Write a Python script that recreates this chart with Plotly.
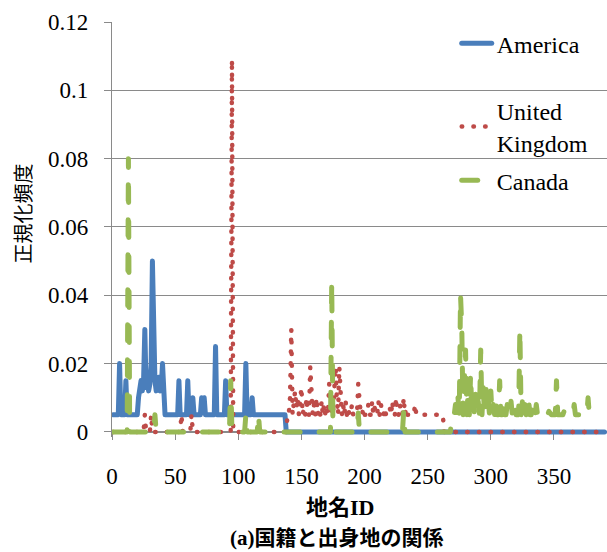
import plotly.graph_objects as go

# ---------------- data ----------------
# x positions: place-name IDs 1..390
x_max = 390

# baseline runs: (first_id, last_id, value)
america_base = [(1, 137, 0.005), (138, 390, 0.0)]
uk_base = [(1, 138, 0.0), (139, 262, 0.005), (263, 390, 0.0)]
canada_base = [(1, 268, 0.0), (269, 378, 0.005)]

# peaks on top of the baseline
america_peak_x = [6, 11, 21, 22, 23, 24, 25, 26, 27, 28, 29, 30, 31, 32, 33, 34, 35, 36, 37, 38,
                  39, 40, 41, 53, 60, 64, 71, 72, 73, 82, 90, 106, 111]
america_peak_y = [0.020, 0.015, 0.010, 0.012, 0.015, 0.012, 0.015, 0.030, 0.013, 0.015, 0.012,
                  0.014, 0.020, 0.050, 0.025, 0.015, 0.012, 0.015, 0.016, 0.012, 0.013, 0.020,
                  0.010, 0.015, 0.015, 0.010, 0.010, 0.009, 0.010, 0.025, 0.015, 0.020, 0.010]

uk_peak_x = [26, 31, 55, 63, 95,
             141, 142, 144, 145, 146, 147, 149, 150, 152, 154, 157, 158, 160, 162, 164, 166,
             168, 170, 172, 174, 176, 177, 178, 180, 181, 183, 185, 187, 190, 195, 196, 199,
             203, 206, 208, 211, 213, 216, 220, 222, 225, 228, 231, 233, 240]
uk_peak_y = [0.005, 0.005, 0.005, 0.005, 0.109,
             0.010, 0.030, 0.008, 0.012, 0.007, 0.010, 0.008, 0.013, 0.007, 0.010, 0.019,
             0.011, 0.008, 0.010, 0.007, 0.009, 0.008, 0.007, 0.014, 0.010, 0.012, 0.019,
             0.010, 0.019, 0.012, 0.008, 0.009, 0.007, 0.008, 0.014, 0.009, 0.007, 0.008,
             0.009, 0.007, 0.009, 0.008, 0.007, 0.007, 0.009, 0.010, 0.008, 0.010, 0.007,
             0.008]

canada_peak_x = [13, 34, 94, 106, 116, 174, 195, 231,
                 272, 274, 276, 277, 279, 280, 282, 284, 286, 288, 290, 292, 294, 296, 298,
                 300, 302, 304, 307, 310, 313, 316, 319, 323, 325, 327, 330, 333, 336, 341,
                 346, 352, 358, 366, 377]
canada_peak_y = [0.080, 0.005, 0.015, 0.005, 0.005, 0.044, 0.0055, 0.006,
                 0.008, 0.010, 0.040, 0.031, 0.020, 0.024, 0.012, 0.017, 0.009, 0.011, 0.009,
                 0.024, 0.013, 0.015, 0.009, 0.012, 0.008, 0.009, 0.015, 0.009, 0.008, 0.009,
                 0.008, 0.030, 0.009, 0.008, 0.009, 0.008, 0.008, 0.006, 0.006, 0.015, 0.006,
                 0.008, 0.010]

x_tick_vals = [0, 50, 100, 150, 200, 250, 300, 350]
x_tick_text = ["0", "50", "100", "150", "200", "250", "300", "350"]
y_tick_vals = [0, 0.02, 0.04, 0.06, 0.08, 0.1, 0.12]
y_tick_text = ["0", "0.02", "0.04", "0.06", "0.08", "0.1", "0.12"]

series_names = ["America", "United<br>Kingdom", "Canada"]
x_title = "地名ID"
y_title = "正規化頻度"
caption = "(a)国籍と出身地の関係"


def build(base_runs, peak_x, peak_y):
    xs, ys = [], []
    for start, end, val in base_runs:
        for i in range(start, end + 1):
            xs.append(i)
            ys.append(val)
    lookup = dict(zip(xs, range(len(xs))))
    for px, py in zip(peak_x, peak_y):
        ys[lookup[px]] = py
    return xs, ys


am_x, am_y = build(america_base, america_peak_x, america_peak_y)
uk_x, uk_y = build(uk_base, uk_peak_x, uk_peak_y)
ca_x, ca_y = build(canada_base, canada_peak_x, canada_peak_y)

BLUE = "#4A7EBB"
RED = "#BE4B48"
GREEN = "#98B954"
GRID = "#8A8A8A"
SERIF = "Liberation Serif, Noto Sans CJK JP"

fig = go.Figure()
fig.add_trace(go.Scatter(x=am_x, y=am_y, mode="lines", name=series_names[0],
                         line=dict(color=BLUE, width=5), legend="legend"))
fig.add_trace(go.Scatter(x=uk_x, y=uk_y, mode="lines", name=series_names[1],
                         line=dict(color=RED, width=4.5, dash="0.5px,11.2px"),
                         legend="legend2"))
fig.add_trace(go.Scatter(x=ca_x, y=ca_y, mode="lines", name=series_names[2],
                         line=dict(color=GREEN, width=5, dash="16px,19px"),
                         legend="legend3"))

# plot area: left 112, right 607, top 22, bottom 437
y_lo = -0.0015
y_hi = 0.12
zero_frac = -y_lo / (y_hi - y_lo)

leg_common = dict(bgcolor="rgba(0,0,0,0)", borderwidth=0,
                  font=dict(family=SERIF, size=24, color="black"),
                  xanchor="left", yanchor="top", itemwidth=30)

fig.update_layout(
    width=607, height=552,
    margin=dict(l=112, r=0, t=22, b=115),
    paper_bgcolor="white", plot_bgcolor="white",
    showlegend=True,
    legend=dict(x=0.6964, y=1.0019, **leg_common),
    legend2=dict(x=0.6964, y=0.8388, **leg_common),
    legend3=dict(x=0.6964, y=0.6721, **leg_common),
    xaxis=dict(range=[0, 392], tickvals=x_tick_vals, ticktext=x_tick_text,
               showgrid=False, zeroline=False, showline=True, linecolor=GRID, linewidth=1.3,
               ticks="outside", ticklen=7, tickwidth=1.3, tickcolor=GRID,
               tickfont=dict(family=SERIF, size=23, color="black"), ticklabelstandoff=16,
               anchor="free", position=zero_frac, layer="below traces"),
    yaxis=dict(range=[y_lo, y_hi], tickvals=y_tick_vals, ticktext=y_tick_text,
               showgrid=True, gridcolor=GRID, gridwidth=1.3, zeroline=False,
               showline=True, linecolor=GRID, linewidth=1.3,
               ticks="outside", ticklen=7, tickwidth=1.3, tickcolor=GRID,
               tickfont=dict(family=SERIF, size=23, color="black"), ticklabelstandoff=11,
               layer="below traces"),
    annotations=[
        dict(text="<b>" + x_title + "</b>", xref="paper", yref="paper",
             x=0.4606, y=-0.171, showarrow=False, xanchor="center", yanchor="middle",
             font=dict(family=SERIF, size=22, color="black")),
        dict(text="<b>" + caption + "</b>", xref="paper", yref="paper",
             x=0.4545, y=-0.243, showarrow=False, xanchor="center", yanchor="middle",
             font=dict(family=SERIF, size=21, color="black")),
        dict(text=y_title, xref="paper", yref="paper", textangle=-90,
             x=-0.1798, y=0.5384, showarrow=False, xanchor="center", yanchor="middle",
             font=dict(family="Noto Sans CJK JP", size=20, color="black")),
    ],
)

post = """
document.body.style.margin = '0';
document.body.style.padding = '0';
var gd = document.getElementById('{plot_id}');
function rounder(){
  gd.querySelectorAll('path.js-line').forEach(function(p){
    p.style.strokeLinecap = 'round';
    p.style.strokeLinejoin = 'round';
  });
}
rounder();
gd.on('plotly_afterplot', rounder);
"""

fig.write_html("out.html", post_script=post, config={"displayModeBar": False})
